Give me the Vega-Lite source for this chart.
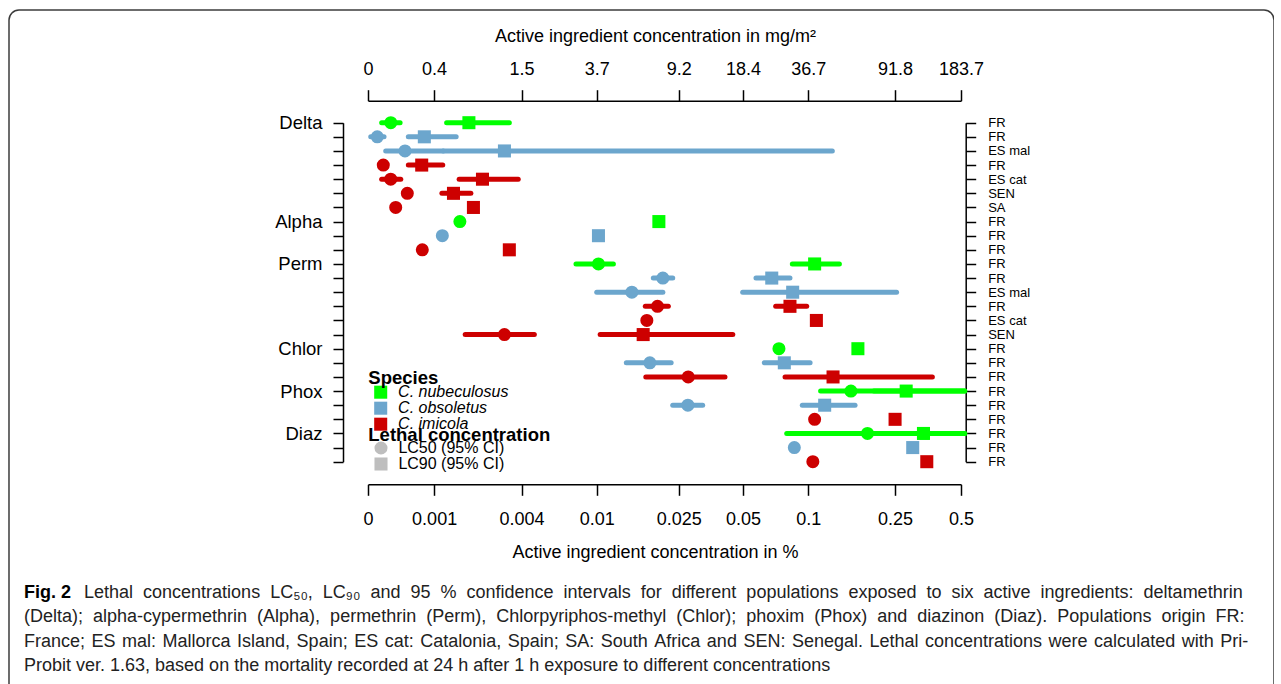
{
  "$schema": "https://vega.github.io/schema/vega-lite/v6.json",
  "width": 1265,
  "height": 700,
  "autosize": {"type": "none"},
  "padding": {"left": 9, "top": 10, "right": 0, "bottom": 0},
  "background": "#ffffff",
  "title": {
    "text": "Fig. 2",
    "subtitle": [
      "\u200b\u00a0\u00a0\u00a0\u00a0\u00a0\u00a0\u00a0\u00a0\u00a0\u00a0\u00a0\u00a0Lethal \u00a0concentrations \u00a0LC₅₀, \u00a0LC₉₀ \u00a0and \u00a095 \u00a0% \u00a0confidence \u00a0intervals \u00a0for \u00a0different \u00a0populations \u00a0exposed \u00a0to \u00a0six \u00a0active \u00a0ingredients: \u00a0deltamethrin",
      "(Delta); \u00a0alpha-cypermethrin \u00a0(Alpha), \u00a0permethrin \u00a0(Perm), \u00a0Chlorpyriphos-methyl \u00a0(Chlor); \u00a0phoxim \u00a0(Phox) \u00a0and \u00a0diazinon \u00a0(Diaz). \u00a0Populations \u00a0origin \u00a0FR:",
      "France; \u200aES \u200amal: \u200aMallorca \u200aIsland, \u200aSpain; \u200aES \u200acat: \u200aCatalonia, \u200aSpain; \u200aSA: \u200aSouth \u200aAfrica \u200aand \u200aSEN: \u200aSenegal. \u200aLethal \u200aconcentrations \u200awere \u200acalculated \u200awith \u200aPri-",
      "Probit ver. 1.63, based on the mortality recorded at 24 h after 1 h exposure to different concentrations"
    ],
    "orient": "bottom",
    "anchor": "start",
    "frame": "group",
    "offset": -126,
    "dx": 15,
    "font": "Liberation Sans",
    "fontSize": 18,
    "fontWeight": "bold",
    "color": "#000000",
    "subtitleFont": "Liberation Sans",
    "subtitleFontSize": 18,
    "subtitleColor": "#222222",
    "subtitlePadding": -18,
    "subtitleLineHeight": 24.3
  },
  "data": {
    "values": [
      {"row": 1, "species": "C. nubeculosus", "lc": "LC50 (95% CI)", "value": 0.00027, "lo": 0.000154, "hi": 0.0004},
      {"row": 1, "species": "C. nubeculosus", "lc": "LC90 (95% CI)", "value": 0.00188, "lo": 0.00128, "hi": 0.0034},
      {"row": 2, "species": "C. obsoletus", "lc": "LC50 (95% CI)", "value": 0.000102, "lo": 0.000029, "hi": 0.000183},
      {"row": 2, "species": "C. obsoletus", "lc": "LC90 (95% CI)", "value": 0.000805, "lo": 0.000526, "hi": 0.00152},
      {"row": 3, "species": "C. obsoletus", "lc": "LC50 (95% CI)", "value": 0.000474, "lo": 0.000204, "hi": 0.0012},
      {"row": 3, "species": "C. obsoletus", "lc": "LC90 (95% CI)", "value": 0.00318, "lo": 0.0012, "hi": 0.129},
      {"row": 4, "species": "C. imicola", "lc": "LC50 (95% CI)", "value": 0.000174, "lo": null, "hi": null},
      {"row": 4, "species": "C. imicola", "lc": "LC90 (95% CI)", "value": 0.000756, "lo": 0.000526, "hi": 0.00119},
      {"row": 5, "species": "C. imicola", "lc": "LC50 (95% CI)", "value": 0.000269, "lo": 0.000154, "hi": 0.00041},
      {"row": 5, "species": "C. imicola", "lc": "LC90 (95% CI)", "value": 0.00232, "lo": 0.0016, "hi": 0.00383},
      {"row": 6, "species": "C. imicola", "lc": "LC50 (95% CI)", "value": 0.00051, "lo": null, "hi": null},
      {"row": 6, "species": "C. imicola", "lc": "LC90 (95% CI)", "value": 0.00145, "lo": 0.00117, "hi": 0.00194},
      {"row": 7, "species": "C. imicola", "lc": "LC50 (95% CI)", "value": 0.000337, "lo": null, "hi": null},
      {"row": 7, "species": "C. imicola", "lc": "LC90 (95% CI)", "value": 0.00202, "lo": null, "hi": null},
      {"row": 8, "species": "C. nubeculosus", "lc": "LC50 (95% CI)", "value": 0.00162, "lo": null, "hi": null},
      {"row": 8, "species": "C. nubeculosus", "lc": "LC90 (95% CI)", "value": 0.0201, "lo": null, "hi": null},
      {"row": 9, "species": "C. obsoletus", "lc": "LC50 (95% CI)", "value": 0.00118, "lo": null, "hi": null},
      {"row": 9, "species": "C. obsoletus", "lc": "LC90 (95% CI)", "value": 0.0102, "lo": null, "hi": null},
      {"row": 10, "species": "C. imicola", "lc": "LC50 (95% CI)", "value": 0.000767, "lo": null, "hi": null},
      {"row": 10, "species": "C. imicola", "lc": "LC90 (95% CI)", "value": 0.0034, "lo": null, "hi": null},
      {"row": 11, "species": "C. nubeculosus", "lc": "LC50 (95% CI)", "value": 0.0102, "lo": 0.00785, "hi": 0.0121},
      {"row": 11, "species": "C. nubeculosus", "lc": "LC90 (95% CI)", "value": 0.107, "lo": 0.0845, "hi": 0.139},
      {"row": 12, "species": "C. obsoletus", "lc": "LC50 (95% CI)", "value": 0.021, "lo": 0.0189, "hi": 0.0234},
      {"row": 12, "species": "C. obsoletus", "lc": "LC90 (95% CI)", "value": 0.0679, "lo": 0.0574, "hi": 0.0824},
      {"row": 13, "species": "C. obsoletus", "lc": "LC50 (95% CI)", "value": 0.0149, "lo": 0.01, "hi": 0.021},
      {"row": 13, "species": "C. obsoletus", "lc": "LC90 (95% CI)", "value": 0.0848, "lo": 0.0498, "hi": 0.254},
      {"row": 14, "species": "C. imicola", "lc": "LC50 (95% CI)", "value": 0.0198, "lo": 0.0173, "hi": 0.0223},
      {"row": 14, "species": "C. imicola", "lc": "LC90 (95% CI)", "value": 0.0824, "lo": 0.0708, "hi": 0.0984},
      {"row": 15, "species": "C. imicola", "lc": "LC50 (95% CI)", "value": 0.0176, "lo": null, "hi": null},
      {"row": 15, "species": "C. imicola", "lc": "LC90 (95% CI)", "value": 0.109, "lo": null, "hi": null},
      {"row": 16, "species": "C. imicola", "lc": "LC50 (95% CI)", "value": 0.00318, "lo": 0.00177, "hi": 0.00472},
      {"row": 16, "species": "C. imicola", "lc": "LC90 (95% CI)", "value": 0.0169, "lo": 0.0104, "hi": 0.0448},
      {"row": 17, "species": "C. nubeculosus", "lc": "LC50 (95% CI)", "value": 0.0733, "lo": null, "hi": null},
      {"row": 17, "species": "C. nubeculosus", "lc": "LC90 (95% CI)", "value": 0.169, "lo": null, "hi": null},
      {"row": 18, "species": "C. obsoletus", "lc": "LC50 (95% CI)", "value": 0.0182, "lo": 0.014, "hi": 0.023},
      {"row": 18, "species": "C. obsoletus", "lc": "LC90 (95% CI)", "value": 0.0776, "lo": 0.0627, "hi": 0.102},
      {"row": 19, "species": "C. imicola", "lc": "LC50 (95% CI)", "value": 0.0277, "lo": 0.0174, "hi": 0.0412},
      {"row": 19, "species": "C. imicola", "lc": "LC90 (95% CI)", "value": 0.13, "lo": 0.0782, "hi": 0.37},
      {"row": 20, "species": "C. nubeculosus", "lc": "LC50 (95% CI)", "value": 0.157, "lo": 0.114, "hi": 0.52},
      {"row": 20, "species": "C. nubeculosus", "lc": "LC90 (95% CI)", "value": 0.281, "lo": 0.2, "hi": 0.52},
      {"row": 21, "species": "C. obsoletus", "lc": "LC50 (95% CI)", "value": 0.0276, "lo": 0.0234, "hi": 0.0324},
      {"row": 21, "species": "C. obsoletus", "lc": "LC90 (95% CI)", "value": 0.119, "lo": 0.0939, "hi": 0.164},
      {"row": 22, "species": "C. imicola", "lc": "LC50 (95% CI)", "value": 0.107, "lo": null, "hi": null},
      {"row": 22, "species": "C. imicola", "lc": "LC90 (95% CI)", "value": 0.25, "lo": null, "hi": null},
      {"row": 23, "species": "C. nubeculosus", "lc": "LC50 (95% CI)", "value": 0.187, "lo": 0.0796, "hi": 0.52},
      {"row": 23, "species": "C. nubeculosus", "lc": "LC90 (95% CI)", "value": 0.337, "lo": 0.25, "hi": 0.52},
      {"row": 24, "species": "C. obsoletus", "lc": "LC50 (95% CI)", "value": 0.0863, "lo": null, "hi": null},
      {"row": 24, "species": "C. obsoletus", "lc": "LC90 (95% CI)", "value": 0.301, "lo": null, "hi": null},
      {"row": 25, "species": "C. imicola", "lc": "LC50 (95% CI)", "value": 0.105, "lo": null, "hi": null},
      {"row": 25, "species": "C. imicola", "lc": "LC90 (95% CI)", "value": 0.349, "lo": null, "hi": null}
    ]
  },
  "layer": [
    {
      "transform": [{"filter": "isValid(datum.lo) && isValid(datum.hi)"}],
      "mark": {"type": "rule", "strokeWidth": 5, "strokeCap": "round"},
      "encoding": {
        "x": {
          "field": "lo", "type": "quantitative",
          "scale": {"type": "symlog", "constant": 0.001, "domain": [0, 0.5], "range": [359, 952], "nice": false, "zero": false},
          "axis": {
            "orient": "bottom", "offset": -225.7,
            "values": [0, 0.001, 0.004, 0.01, 0.025, 0.05, 0.1, 0.25, 0.5],
            "format": "~g",
            "tickSize": 11, "labelPadding": 15, "labelFontSize": 18,
            "title": "Active ingredient concentration in %",
            "titleFontSize": 18, "titleX": 646, "titleY": 73, "titleBaseline": "alphabetic"
          }
        },
        "x2": {"field": "hi"},
        "y": {
          "field": "row", "type": "quantitative",
          "scale": {"domain": [1, 25], "range": [112.7, 451.7], "nice": false, "zero": false},
          "axis": {
            "orient": "left", "offset": -334,
            "values": [1,2,3,4,5,6,7,8,9,10,11,12,13,14,15,16,17,18,19,20,21,22,23,24,25],
            "labelExpr": "datum.value == 1 ? 'Delta' : datum.value == 8 ? 'Alpha' : datum.value == 11 ? 'Perm' : datum.value == 17 ? 'Chlor' : datum.value == 20 ? 'Phox' : datum.value == 23 ? 'Diaz' : ''",
            "tickSize": 10, "labelPadding": 11, "labelFontSize": 18.5,
            "title": null
          }
        },
        "color": {
          "field": "species", "type": "nominal",
          "scale": {"domain": ["C. nubeculosus", "C. obsoletus", "C. imicola"], "range": ["#00ff00", "#6ca6cd", "#cd0000"]},
          "legend": null
        }
      }
    },
    {
      "mark": {"type": "point", "filled": true, "opacity": 1, "size": 170},
      "encoding": {
        "x": {
          "field": "value", "type": "quantitative",
          "scale": {"type": "symlog", "constant": 0.001, "domain": [0, 0.5], "range": [359, 952], "nice": false, "zero": false},
          "axis": {
            "orient": "top", "offset": -90.7,
            "values": [0, 0.001, 0.004, 0.01, 0.025, 0.05, 0.1, 0.25, 0.5],
            "labelExpr": "['0','0.4','1.5','3.7','9.2','18.4','36.7','91.8','183.7'][indexof([0,0.001,0.004,0.01,0.025,0.05,0.1,0.25,0.5], datum.value)]",
            "tickSize": 11, "labelPadding": 11, "labelFontSize": 18,
            "title": "Active ingredient concentration in mg/m²",
            "titleFontSize": 18, "titleX": 646, "titleY": -59, "titleBaseline": "alphabetic"
          }
        },
        "y": {
          "field": "row", "type": "quantitative",
          "scale": {"domain": [1, 25], "range": [112.7, 451.7], "nice": false, "zero": false},
          "axis": {
            "orient": "right", "offset": -308.3,
            "values": [1,2,3,4,5,6,7,8,9,10,11,12,13,14,15,16,17,18,19,20,21,22,23,24,25],
            "labelExpr": "['FR','FR','ES mal','FR','ES cat','SEN','SA','FR','FR','FR','FR','FR','ES mal','FR','ES cat','SEN','FR','FR','FR','FR','FR','FR','FR','FR','FR'][datum.value - 1]",
            "tickSize": 10, "labelPadding": 12, "labelFontSize": 13,
            "title": null
          }
        },
        "color": {
          "field": "species", "type": "nominal",
          "scale": {"domain": ["C. nubeculosus", "C. obsoletus", "C. imicola"], "range": ["#00ff00", "#6ca6cd", "#cd0000"]},
          "legend": {
            "title": "Species", "orient": "none", "legendX": 359.3, "legendY": 358.7,
            "symbolType": "square", "symbolSize": 170, "symbolStrokeWidth": 0,
            "symbolOffset": 4.4, "labelOffset": 9.4,
            "labelFont": "Liberation Sans", "labelFontSize": 16, "labelFontStyle": "italic", "labelColor": "#000000", "labelLimit": 400,
            "titleFont": "Liberation Sans", "titleFontSize": 18.5, "titleFontWeight": "bold", "titleColor": "#000000", "titleLimit": 400,
            "titlePadding": -3, "rowPadding": 0, "padding": 0
          }
        },
        "shape": {
          "field": "lc", "type": "nominal",
          "scale": {"domain": ["LC50 (95% CI)", "LC90 (95% CI)"], "range": ["circle", "square"]},
          "legend": {
            "title": "Lethal concentration", "orient": "none", "legendX": 359.3, "legendY": 415.5,
            "symbolSize": 170, "symbolStrokeWidth": 0, "symbolFillColor": "#bebebe",
            "symbolOffset": 4.7, "labelOffset": 9.4,
            "labelFont": "Liberation Sans", "labelFontSize": 16, "labelColor": "#000000", "labelLimit": 400,
            "titleFont": "Liberation Sans", "titleFontSize": 18.5, "titleFontWeight": "bold", "titleColor": "#000000", "titleLimit": 400,
            "titlePadding": -4, "rowPadding": 0, "padding": 0
          }
        }
      }
    }
  ],
  "resolve": {"axis": {"x": "independent", "y": "independent"}, "legend": {"color": "independent"}},
  "config": {
    "view": {"stroke": "#3c3c3c", "strokeWidth": 1.5, "cornerRadius": 10, "fill": "#ffffff"},
    "axis": {
      "grid": false, "domainColor": "#000000", "domainWidth": 1.5, "tickColor": "#000000", "tickWidth": 1.5,
      "labelColor": "#000000", "titleColor": "#000000", "labelFont": "Liberation Sans", "titleFont": "Liberation Sans",
      "titleFontWeight": "normal", "labelFlush": false, "labelOverlap": false, "labelBound": false
    }
  }
}
